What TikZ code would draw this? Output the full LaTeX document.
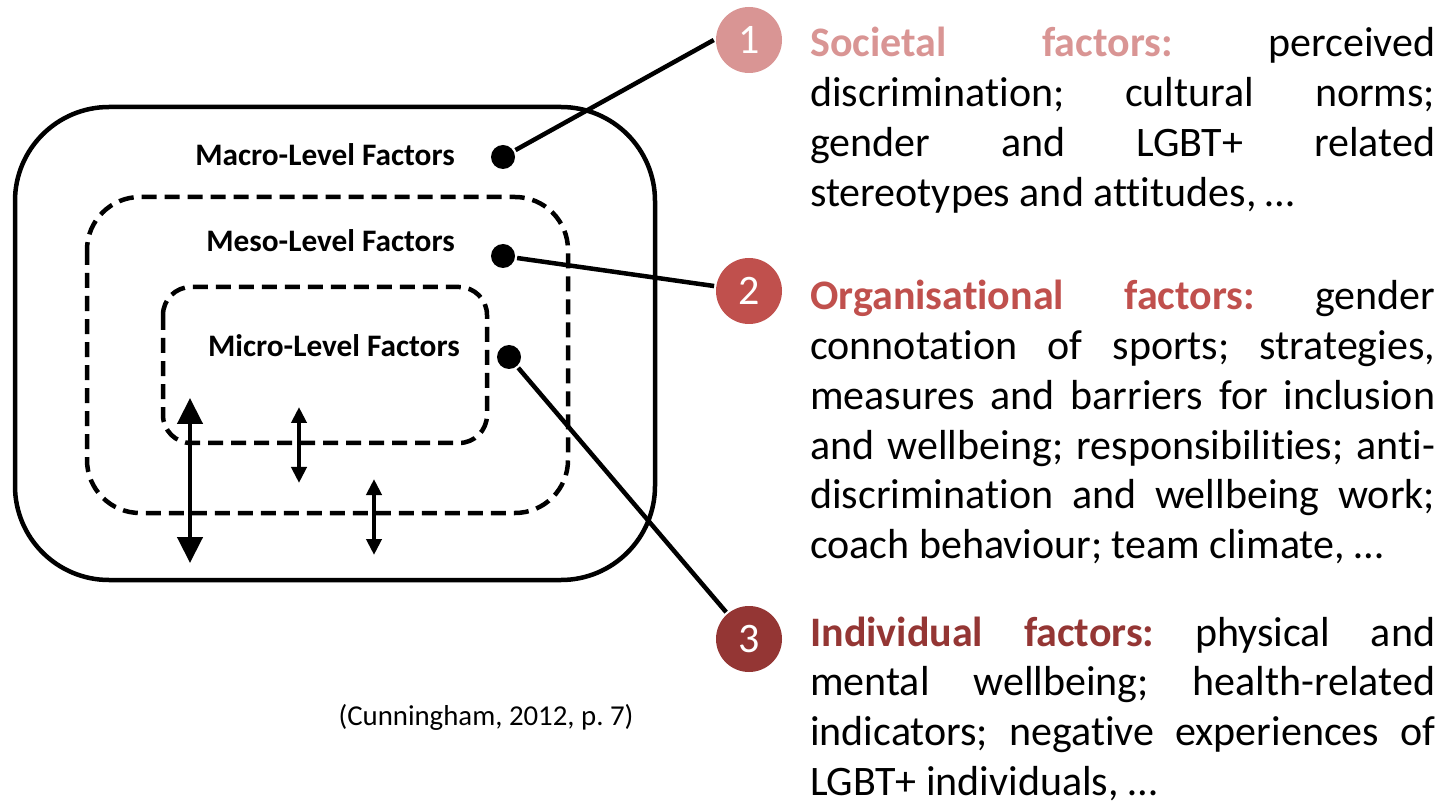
\documentclass[tikz,border=0pt]{standalone}
\usepackage{fontspec}
\setmainfont{Carlito}[Ligatures={NoCommon}]
\frenchspacing
\usetikzlibrary{arrows.meta}

\definecolor{lvlone}{HTML}{D99594}
\definecolor{lvltwo}{HTML}{C0504D}
\definecolor{lvlthree}{HTML}{943634}

\begin{document}
\begin{tikzpicture}[x=.2mm,y=-.2mm,line width=.09cm,
  level/.style={anchor=base east,inner sep=0pt,font=\bfseries\fontsize{17.8}{20}\selectfont},
  pin/.style={circle,fill=black,inner sep=0pt,minimum size=.48cm},
  num/.style={circle,fill=#1,text=white,inner sep=0pt,minimum size=1.32cm,font=\fontsize{23.9}{28}\selectfont},
  factor/.style={anchor=base west,inner sep=0pt,text width=12.5cm,align=justify,font=\fontsize{23.9}{28.3}\selectfont},
  dashbox/.style={dash pattern=on .3cm off .16cm},
  bigarrow/.style={{Triangle[length=.52cm,width=.5cm]}-{Triangle[length=.52cm,width=.5cm]}},
  smallarrow/.style={{Triangle[length=.32cm,width=.3cm]}-{Triangle[length=.32cm,width=.3cm]}}]
  \useasboundingbox (0,0) rectangle (1441,804);

  % the three nested levels
  \draw[rounded corners=1.88cm] (15,107) rectangle (655,580);
  \draw[dashbox,rounded corners=1.06cm] (87,197) rectangle (568,513);
  \draw[dashbox,rounded corners=.56cm] (163,287) rectangle (487,443);

  \node[level] (macro) at (457,166) {Macro-Level Factors};
  \node[level] (meso) at (457,252) {Meso-Level Factors};
  \node[level] (micro) at (462,357) {Micro-Level Factors};

  % interaction between levels
  \coordinate (a1) at (190,398);
  \coordinate (a2) at (190,563);
  \coordinate (b1) at (299,407);
  \coordinate (b2) at (299,483);
  \coordinate (c1) at (374,479);
  \coordinate (c2) at (374,555);
  \draw[bigarrow] (a1) -- (a2);
  \draw[smallarrow] (b1) -- (b2);
  \draw[smallarrow] (c1) -- (c2);

  \node[font=\fontsize{16.4}{19}\selectfont] (src) at (486,717) {(Cunningham, 2012, p. 7)};

  % pins and numbered markers
  \node[pin] (d1) at (503,157) {};
  \node[pin] (d2) at (503,256) {};
  \node[pin] (d3) at (509,357) {};
  \node[num=lvlone] (n1) at (749,40) {1};
  \node[num=lvltwo] (n2) at (749,291) {2};
  \node[num=lvlthree] (n3) at (749,639) {3};
  \draw (d1) -- (n1.west);
  \draw (d2) -- (n2);
  \draw (d3) -- (n3);

  \node[factor] (soc) at (808,57) {\textcolor{lvlone}{\textbf{Societal factors:}} perceived\linebreak
    discrimination; cultural norms;\linebreak
    gender and LGBT+ related\linebreak
    stereotypes and attitudes, …};
  \node[factor] (org) at (808,310) {\textcolor{lvltwo}{\textbf{Organisational factors:}} gender\linebreak
    connotation of sports; strategies,\linebreak
    measures and barriers for inclusion\linebreak
    and wellbeing; responsibilities; anti-\linebreak
    discrimination and wellbeing work;\linebreak
    coach behaviour; team climate, …};
  \node[factor] (ind) at (808,646) {\textcolor{lvlthree}{\textbf{Individual factors:}} physical and\linebreak
    mental wellbeing; health-related\linebreak
    indicators; negative experiences of\linebreak
    LGBT+ individuals, …};
\end{tikzpicture}
\end{document}
